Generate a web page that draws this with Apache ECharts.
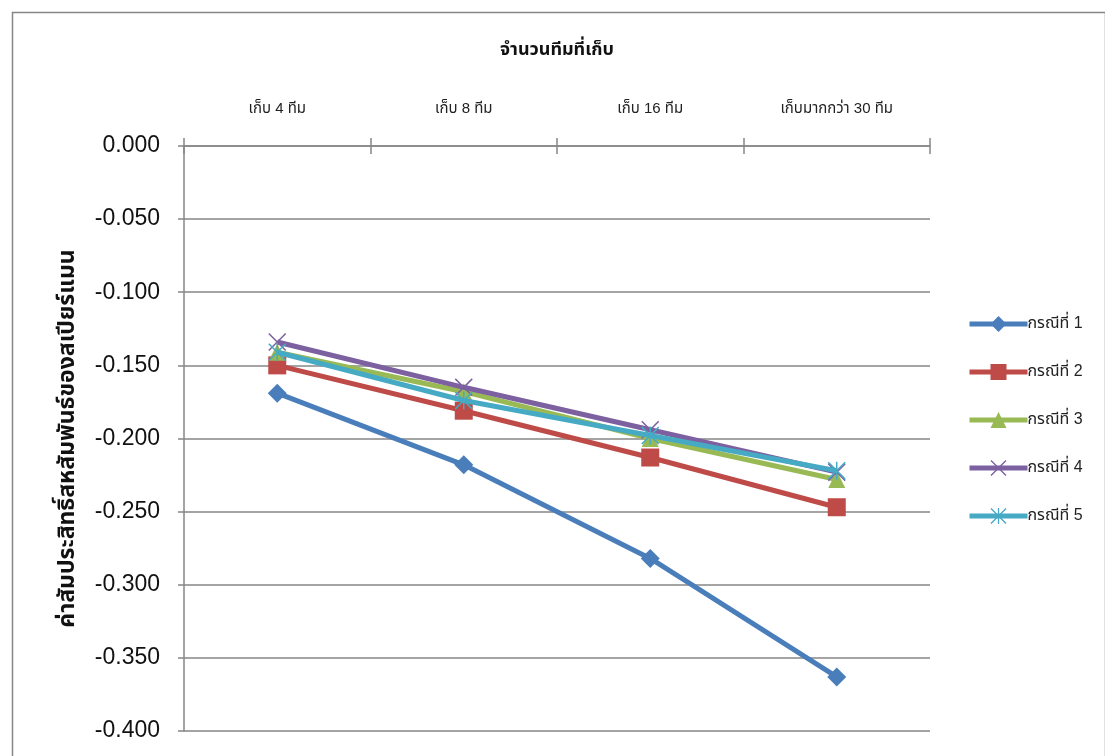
<!DOCTYPE html>
<html>
<head>
<meta charset="utf-8">
<script src="https://cdn.jsdelivr.net/npm/echarts@6/dist/echarts.min.js"></script>
<style>
html,body{margin:0;padding:0;background:#fff;}
#chart{width:1105px;height:756px;}
</style>
</head>
<body>
<div id="chart"></div>
<script>
// Categories: number of teams kept
const categories = ['เก็บ 4 ทีม', 'เก็บ 8 ทีม', 'เก็บ 16 ทีม', 'เก็บมากกว่า 30 ทีม'];
const seriesNames = ['กรณีที่ 1', 'กรณีที่ 2', 'กรณีที่ 3', 'กรณีที่ 4', 'กรณีที่ 5'];
// Spearman correlation per case
const case1 = [-0.169, -0.218, -0.282, -0.363];
const case2 = [-0.150, -0.181, -0.213, -0.247];
const case3 = [-0.141, -0.168, -0.200, -0.228];
const case4 = [-0.134, -0.165, -0.194, -0.223];
const case5 = [-0.141, -0.174, -0.198, -0.222];
const yTicks = [0, -0.05, -0.1, -0.15, -0.2, -0.25, -0.3, -0.35, -0.4];

const FONT = '"Liberation Sans", "Noto Sans Thai", "Noto Sans", sans-serif';
const colors = ['#4a7ebb', '#be4b48', '#98b954', '#7d60a0', '#46aac5'];
const xPath = 'path://M0,1.2L1.2,0L20,18.8L18.8,20Z M18.8,0L20,1.2L1.2,20L0,18.8Z';
const starPath = 'path://M0,1.2L1.2,0L20,18.8L18.8,20Z M18.8,0L20,1.2L1.2,20L0,18.8Z M9.2,0L10.8,0L10.8,20L9.2,20Z';
const symbols = ['diamond', 'rect', 'triangle', xPath, starPath];
const symbolSizes = [19, 18, 17, 18, 18];
const allData = [case1, case2, case3, case4, case5];

const chart = echarts.init(document.getElementById('chart'));
chart.setOption({
  animation: false,
  color: colors,
  graphic: [{
    type: 'rect', left: 10, top: 10,
    shape: { width: 1093, height: 760 },
    style: { fill: 'none', stroke: '#868686', lineWidth: 1.5 }
  }],
  grid: { left: 184, right: 175, top: 146, bottom: 25 },
  legend: {
    orient: 'vertical', left: 962, top: 311, itemGap: 32,
    itemWidth: 58, itemHeight: 20,
    lineStyle: { width: 5 },
    textStyle: { fontFamily: FONT, fontSize: 16, color: '#222', padding: [0, 0, 0, -5] },
    data: seriesNames
  },
  xAxis: [{
    type: 'category', position: 'top', data: categories,
    name: 'จำนวนทีมที่เก็บ', nameLocation: 'middle', nameGap: 87,
    nameTextStyle: { fontFamily: FONT, fontSize: 18, fontWeight: 'bold', color: '#111' },
    axisLine: { lineStyle: { color: '#868686', width: 1.5 } },
    axisTick: { show: true, length: 8, lineStyle: { color: '#868686', width: 1.5 } },
    axisLabel: { fontFamily: FONT, fontSize: 15, color: '#222', margin: 30 },
    splitLine: { show: false }
  }, {
    type: 'category', position: 'top', data: categories,
    axisLine: { show: false },
    axisTick: { show: true, inside: true, length: 8, lineStyle: { color: '#868686', width: 1.5 } },
    axisLabel: { show: false }
  }],
  yAxis: {
    type: 'value', min: -0.4, max: 0, interval: 0.05,
    name: 'ค่าสัมประสิทธิ์สหสัมพันธ์ของสเปียร์แมน', nameLocation: 'middle', nameGap: 105,
    nameTextStyle: { fontFamily: FONT, fontSize: 23, fontWeight: 'bold', color: '#111' },
    axisLine: { show: true, lineStyle: { color: '#868686', width: 1.5 } },
    axisTick: { show: true, length: 6, lineStyle: { color: '#868686', width: 1.5 } },
    axisLabel: { fontFamily: FONT, fontSize: 23, color: '#111', margin: 24,
      formatter: v => v.toFixed(3) },
    splitLine: { lineStyle: { color: '#868686', width: 1.5 } }
  },
  series: allData.map((d, i) => ({
    name: seriesNames[i], type: 'line', data: d, xAxisIndex: 0,
    symbol: symbols[i], symbolSize: symbolSizes[i],
    lineStyle: { width: 5, color: colors[i] },
    itemStyle: { color: colors[i] },
    z: 10 + i
  }))
});
</script>
</body>
</html>
